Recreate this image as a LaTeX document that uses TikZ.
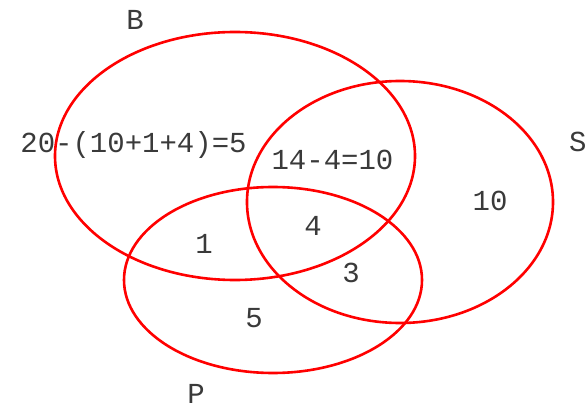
\documentclass[tikz,border=0pt]{standalone}
\usepackage{fontspec}
\setmonofont{Liberation Mono}
\definecolor{txt}{HTML}{3A3A3A}
\definecolor{vred}{HTML}{FF0000}
\begin{document}
\begin{tikzpicture}[x=1pt,y=-1pt,
  lbl/.style={inner sep=0pt, text=txt, font=\ttfamily\fontsize{29}{34}\selectfont},
  setline/.style={draw=vred, line width=2.6pt}]
\useasboundingbox (0,0) rectangle (587,409);
\draw[setline] (235,156) ellipse [x radius=180, y radius=124];
\draw[setline] (400,202) ellipse [x radius=153, y radius=121];
\draw[setline] (273,280) ellipse [x radius=149, y radius=93];
\node[lbl] (lB) at (135,20) {B};
\node[lbl, anchor=west] (lS) at (569,142) {S};
\node[lbl] (lP) at (196,394) {P};
\node[lbl] (bonly) at (133.5,145) {20-(10+1+4)=5};
\node[lbl] (bs) at (332.5,160) {14-4=10};
\node[lbl] (sonly) at (490,201) {10};
\node[lbl] (bsp) at (313,226) {4};
\node[lbl] (bp) at (204,244) {1};
\node[lbl] (sp) at (351,273) {3};
\node[lbl] (ponly) at (254,318) {5};
\end{tikzpicture}
\end{document}
